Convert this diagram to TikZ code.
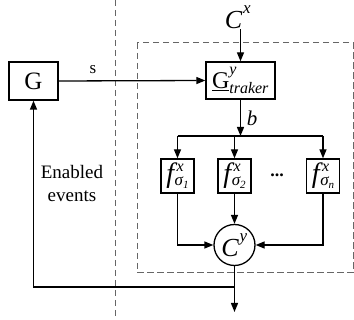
\documentclass[tikz,border=0pt]{standalone}
\usepackage{fontspec}
\setmainfont{Liberation Serif}
\usetikzlibrary{arrows.meta}
\newcommand{\fs}[1]{\fontsize{#1}{#1}\selectfont}
% filter symbol: large italic f, superscript x, subscript sigma with index
\newcommand{\fsub}[1]{{\itshape\fs{28}f\kern2.5pt\raisebox{11pt}{\fs{16}x}\kern-9pt\raisebox{-3pt}{\fs{17}σ}\raisebox{-6pt}{\fs{11}#1}}}
\begin{document}
\begin{tikzpicture}[x=1pt,y=-1pt,
  line width=1.3pt,
  blk/.style={draw, line width=1.3pt, inner sep=0pt, align=center},
  fbox/.style={blk, minimum width=33pt, minimum height=34pt},
  arr/.style={-{Triangle[length=9pt,width=7pt]}},
  dsh/.style={draw=black!60, line width=1pt, dash pattern=on 6.5pt off 3.5pt},
  lbl/.style={inner sep=0pt}]
\useasboundingbox (0,0) rectangle (354,320);

% separators
\draw[dsh] (115,0) -- (115,320);
\draw[dsh] (137,43) rectangle (353,273);

% plant and tracker
\node[blk, minimum width=49pt, minimum height=38pt] (G) at (33.5,81) {\fs{25}G};
\node[blk, minimum width=69pt, minimum height=37pt] (T) at (240.5,80.5)
  {$\mbox{\fs{24}\underline{G}}^{\raisebox{1pt}{\mbox{\fs{16}\itshape y}}}_{\raisebox{-2pt}{\mbox{\fs{16}\itshape traker}}}$};
\node[lbl] (Cx) at (238,17) {$\mbox{\fs{26}\itshape C\kern1pt}^{\mbox{\fs{17}\itshape x}}$};

% branch line
\coordinate (b) at (240.5,136);
\coordinate (bl) at (177.5,136);
\coordinate (bm) at (234.5,136);
\coordinate (br) at (323,136);

% filters
\node[fbox] (f1) at (177.5,176) {\fsub{1}};
\node[fbox] (f2) at (234.5,176) {\fsub{2}};
\node[fbox] (fn) at (323,176) {\fsub{\itshape n}};
\node[lbl] (dots) at (277,175) {\fs{18}\textbf{...}};

% combiner
\node[draw, circle, line width=1.3pt, minimum size=41pt, inner sep=0pt] (Cy) at (234.5,245)
  {$\mbox{\fs{26}\itshape C\kern1pt}^{\mbox{\fs{17}\itshape y}}$};

% output and feedback
\coordinate (out) at (234.5,312);
\coordinate (j) at (234.5,287);
\coordinate (jl) at (33.5,287);

% labels
\node[lbl] (s) at (93,70) {\fs{17}s};
\node[lbl] (bt) at (252,118) {\fs{21}\itshape b};
\node[lbl, align=center, font=\fontsize{19}{23}\selectfont] (en) at (72,184) {Enabled\\events};

% connectors
\draw[arr] (G.east) -- (T.west);
\draw[arr] (Cx.south -| T.north) -- (T.north);
\draw[arr] (T.south) -- (b);
\draw (bl) -- (br);
\draw[arr] (bl) -- (f1.north);
\draw[arr] (bm) -- (f2.north);
\draw[arr] (br) -- (fn.north);
\draw[arr] (f1.south) |- (Cy.west);
\draw[arr] (fn.south) |- (Cy.east);
\draw[arr] (f2.south) -- (Cy.north);
\draw[arr] (Cy.south) -- (out);
\draw[arr] (j) -- (jl) -- (G.south);
\end{tikzpicture}
\end{document}
